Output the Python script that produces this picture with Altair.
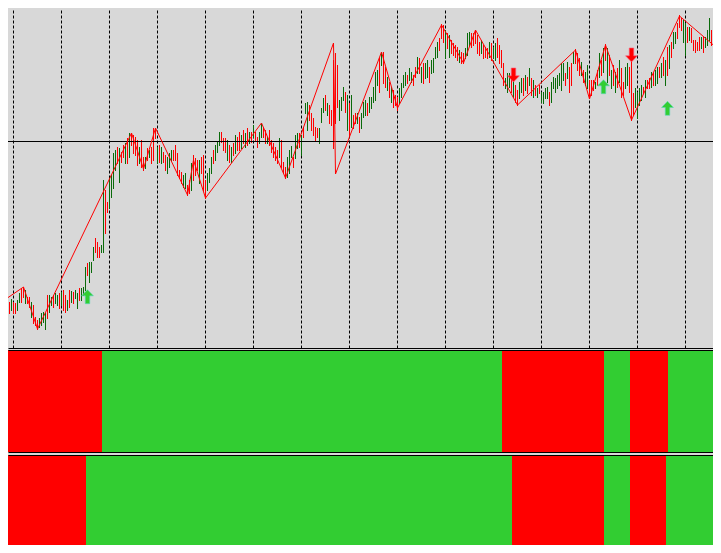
import altair as alt
import pandas as pd

# ---------------- data ----------------
# price levels are expressed in chart rows (larger = lower price)
bar_dir = (
    "GRRGRGRRGG" "RRGRRGRRRG" "GGGRGGRGGR" "GRRGRGRGGR" "GGGRGGGRRR"
    "GGRRGGGGRG" "RRGRGRRRRG" "RRGRGRRRGR" "GRRGGGRRRR" "RGGRRGRRRG"
    "RRRGGGRGGG" "RRRGRGRGRR" "GRGRGRGRRG" "GRRGRRRRRG" "RRRGGGRGGR"
    "GRGGRRRRRG" "GGRGRRRRRG" "GGRGRGRRGR" "GGGRGGGGGR" "GRRGRGRRRG"
    "GGGRGGRRGR" "GRGGRGGGGR" "RRGRGRRRRG" "RRGGGRRRRR" "GRRRGRGGRR"
    "RRGGGRGRRG" "GRGRGRGRGR" "GGGGRGGGGG" "GGRGRRGRRR" "GRGGRRRGRG"
    "RGRGRGRGRG" "RRGGRRRGGG" "GRGRRGRGGR" "GRGRGRGGRR" "RGGRGRRRRR"
    "GRGGGRRRRG"
)
bar_top = [
    305, 307, 308, 303, 302, 299, 302, 303, 300, 293,
    288, 287, 290, 297, 297, 302, 305, 317, 320, 318,
    313, 312, 313, 295, 295, 297, 295, 293, 295, 293,
    292, 290, 295, 300, 290, 291, 292, 290, 293, 288,
    288, 287, 267, 263, 262, 262, 247, 238, 242, 247,
    245, 180, 190, 202, 178, 175, 153, 150, 147, 148,
    152, 145, 143, 138, 133, 133, 135, 137, 140, 147,
    140, 157, 157, 148, 150, 147, 128, 128, 147, 145,
    147, 152, 155, 157, 153, 150, 150, 145, 153, 170,
    172, 175, 173, 185, 180, 163, 155, 158, 160, 160,
    157, 155, 180, 173, 168, 157, 150, 145, 142, 132,
    132, 138, 138, 140, 145, 147, 143, 135, 137, 132,
    135, 130, 133, 128, 132, 132, 125, 132, 137, 132,
    123, 127, 130, 137, 130, 140, 143, 147, 150, 138,
    140, 162, 167, 157, 150, 146, 157, 135, 133, 133,
    135, 127, 103, 102, 105, 113, 118, 127, 128, 128,
    108, 98, 95, 103, 105, 110, 60, 53, 65, 100,
    97, 87, 92, 95, 103, 95, 115, 113, 113, 117,
    113, 102, 100, 103, 97, 97, 87, 72, 70, 58,
    52, 52, 67, 77, 82, 87, 90, 95, 97, 88,
    83, 75, 72, 75, 68, 72, 75, 67, 57, 58,
    67, 63, 63, 60, 67, 60, 58, 47, 42, 38,
    24, 25, 30, 33, 35, 40, 43, 45, 47, 50,
    52, 53, 48, 33, 32, 33, 33, 30, 35, 42,
    40, 45, 47, 48, 42, 43, 47, 43, 38, 45,
    50, 63, 78, 73, 73, 78, 78, 85, 90, 82,
    78, 78, 75, 77, 68, 78, 80, 85, 88, 85,
    92, 92, 88, 87, 92, 82, 77, 78, 75, 73,
    63, 63, 73, 62, 67, 63, 52, 49, 53, 58,
    62, 70, 72, 65, 80, 80, 80, 82, 70, 53,
    60, 48, 44, 48, 55, 70, 65, 72, 68, 60,
    68, 82, 67, 63, 67, 58, 93, 88, 92, 88,
    85, 87, 80, 80, 78, 72, 73, 70, 67, 67,
    63, 57, 60, 47, 45, 42, 32, 32, 23, 15,
    18, 20, 23, 27, 27, 28, 40, 40, 42, 37,
    37, 37, 37, 30, 18, 30, 32, 35, 32, 30,
]
bar_bottom = [
    323, 315, 313, 312, 313, 310, 313, 313, 310, 302,
    302, 297, 303, 303, 307, 317, 323, 325, 329, 327,
    325, 322, 329, 318, 312, 305, 307, 303, 305, 308,
    305, 310, 312, 310, 307, 302, 303, 298, 308, 300,
    300, 295, 290, 275, 282, 272, 260, 252, 257, 257,
    252, 252, 233, 212, 208, 197, 188, 170, 163, 182,
    162, 157, 163, 163, 157, 145, 153, 155, 165, 163,
    167, 170, 168, 160, 157, 163, 160, 138, 163, 162,
    163, 162, 170, 173, 167, 160, 160, 160, 175, 178,
    183, 187, 188, 195, 193, 190, 180, 175, 170, 183,
    173, 190, 198, 190, 182, 173, 163, 160, 152, 145,
    142, 150, 152, 160, 162, 162, 155, 153, 150, 150,
    148, 143, 147, 145, 143, 142, 137, 140, 147, 143,
    137, 137, 143, 143, 145, 152, 157, 160, 163, 157,
    167, 173, 178, 177, 173, 157, 167, 158, 148, 147,
    155, 137, 113, 130, 120, 130, 135, 140, 137, 143,
    122, 112, 110, 115, 123, 125, 148, 123, 107, 120,
    110, 100, 112, 130, 135, 127, 128, 123, 123, 132,
    128, 117, 115, 115, 112, 108, 102, 100, 85, 92,
    65, 83, 87, 90, 97, 102, 107, 105, 110, 103,
    97, 87, 85, 83, 80, 82, 85, 77, 73, 73,
    82, 83, 78, 77, 82, 73, 72, 58, 57, 50,
    38, 42, 58, 48, 57, 53, 55, 57, 60, 62,
    63, 63, 58, 55, 45, 47, 45, 43, 53, 55,
    53, 58, 57, 58, 57, 60, 58, 60, 57, 63,
    67, 85, 88, 92, 87, 92, 97, 102, 105, 98,
    92, 95, 90, 93, 85, 95, 97, 95, 97, 93,
    102, 103, 98, 98, 105, 102, 88, 92, 88, 85,
    90, 80, 85, 78, 92, 85, 63, 63, 70, 75,
    75, 82, 85, 88, 98, 95, 90, 88, 85, 77,
    75, 72, 60, 82, 75, 88, 85, 92, 87, 82,
    97, 95, 88, 85, 92, 120, 115, 107, 118, 105,
    100, 93, 97, 88, 88, 87, 85, 85, 83, 77,
    77, 75, 85, 75, 68, 57, 48, 43, 38, 27,
    30, 42, 55, 42, 40, 42, 50, 52, 50, 50,
    48, 52, 47, 45, 40, 45, 45, 52, 50, 45,
]

# ZigZag turning points (bar index, level)
zz_bar = [0, 11, 18, 65, 71, 77, 93, 96, 102, 130, 142, 166, 167, 190, 198,
          220, 231, 237, 258, 287, 294, 302, 315, 339, 360]
zz_level = [302, 287, 329, 133, 169, 128, 195, 160, 198, 123, 178, 43, 174, 52, 108,
            25, 63, 30, 105, 50, 99, 45, 120, 16, 52]

# horizontal price line
hline_level = [141.5]

# signal arrows
up_bar = [43, 301, 333]
up_level = [296.7, 86.7, 108.3]
down_bar = [256, 315]
down_level = [75, 55]

# two indicator sub-windows: segment starts and state
sig1_start = [0, 51, 251, 302, 315, 334]
sig1_state = ["sell", "buy", "sell", "buy", "sell", "buy"]
sig2_start = [0, 43, 256, 302, 315, 333]
sig2_state = ["sell", "buy", "sell", "buy", "sell", "buy"]

N_BARS = 360
grid_bars = [5.75 + 24 * k for k in range(15)]

# ---------------- styling ----------------
BG = "#D8D8D8"
UP_COL = "#0A6A0A"
DN_COL = "#FF0000"
W = 705
HA, HB, HC = 340, 102, 90

xscale = alt.Scale(domain=[3.25, 3.25 + W / 2], nice=False, zero=False)
yscale = alt.Scale(domain=[8, 348], reverse=True, nice=False, zero=False)

bars = pd.DataFrame({
    "bar": list(range(N_BARS)),
    "top": bar_top,
    "bottom": [b + 1 for b in bar_bottom],
    "dir": ["up" if c == "G" else "down" for c in bar_dir],
})
zz = pd.DataFrame({"bar": zz_bar, "level": zz_level})
hl = pd.DataFrame({"level": hline_level})
ups = pd.DataFrame({"bar": up_bar, "level": up_level})
dns = pd.DataFrame({"bar": down_bar, "level": down_level})

main_axis = alt.Axis(orient="bottom", values=grid_bars, domain=True, domainColor="black",
                     domainWidth=1, ticks=False, labels=False, grid=True, gridColor="black",
                     gridDash=[3, 2], gridWidth=1, gridOpacity=1)

bar_layer = alt.Chart(bars).mark_rule(strokeWidth=1, clip=True).encode(
    x=alt.X("bar:Q", scale=xscale, axis=main_axis, title=None),
    y=alt.Y("top:Q", scale=yscale, axis=None),
    y2="bottom:Q",
    color=alt.Color("dir:N", scale=alt.Scale(domain=["up", "down"], range=[UP_COL, DN_COL]),
                    legend=None),
)
hline_layer = alt.Chart(hl).mark_rule(color="black", strokeWidth=1, clip=True).encode(
    y=alt.Y("level:Q", scale=yscale, axis=None)
)
zz_layer = alt.Chart(zz).mark_line(color="#FF0000", strokeWidth=1, clip=True).encode(
    x=alt.X("bar:Q", scale=xscale),
    y=alt.Y("level:Q", scale=yscale, axis=None),
    order="bar:Q",
)
UP_PATH = "M0,-1L0.85,-0.12L0.32,-0.12L0.32,1L-0.32,1L-0.32,-0.12L-0.85,-0.12Z"
DN_PATH = "M0,1L0.85,0.12L0.32,0.12L0.32,-1L-0.32,-1L-0.32,0.12L-0.85,0.12Z"
up_layer = alt.Chart(ups).mark_point(shape=UP_PATH, filled=True, size=196, color="#32CD32",
                                     opacity=1, stroke="#5ad6c0", strokeWidth=0.6, clip=True).encode(
    x=alt.X("bar:Q", scale=xscale),
    y=alt.Y("level:Q", scale=yscale, axis=None),
)
dn_layer = alt.Chart(dns).mark_point(shape=DN_PATH, filled=True, size=196, color="#FF0000",
                                     opacity=1, stroke="#ff5a7a", strokeWidth=0.6, clip=True).encode(
    x=alt.X("bar:Q", scale=xscale),
    y=alt.Y("level:Q", scale=yscale, axis=None),
)

main = alt.layer(bar_layer, hline_layer, zz_layer, up_layer, dn_layer).properties(width=W, height=HA)


def segments(starts, states):
    ends = starts[1:] + [N_BARS + 1]
    return pd.DataFrame({
        "x0": [s - 0.75 for s in starts],
        "x1": [e - 0.75 for e in ends],
        "state": states,
        "y0": 0,
        "y1": 1,
    })


sig_scale = alt.Scale(domain=["sell", "buy"], range=["#FF0000", "#32CD32"])


def rect_layer(df, orient):
    return alt.Chart(df).mark_rect(clip=True).encode(
        x=alt.X("x0:Q", scale=xscale, title=None,
                axis=alt.Axis(orient=orient, domain=True, domainColor="black", domainWidth=1,
                              ticks=False, labels=False, grid=False, zindex=1)),
        x2="x1:Q",
        y=alt.Y("y0:Q", scale=alt.Scale(domain=[0, 1], nice=False), axis=None),
        y2="y1:Q",
        color=alt.Color("state:N", scale=sig_scale, legend=None),
    )


s1 = segments(sig1_start, sig1_state)
s2 = segments(sig2_start, sig2_state)

panel1 = alt.layer(rect_layer(s1, "top"), rect_layer(s1, "bottom")).resolve_axis(
    x="independent").properties(width=W, height=HB)
panel2 = rect_layer(s2, "top").properties(width=W, height=HC)

lower = alt.vconcat(panel1, panel2, spacing=3, bounds="flush").resolve_scale(y="independent")

chart = alt.vconcat(
    main,
    lower,
    spacing=2,
    bounds="flush",
).resolve_scale(color="independent", y="independent").properties(
    padding=0, background=BG).configure_view(stroke=None)

chart.save("out.html", embed_options={"renderer": "svg", "actions": False})
